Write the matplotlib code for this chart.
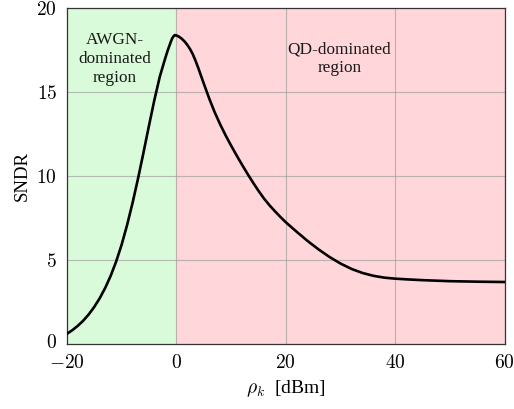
import matplotlib.pyplot as plt
import matplotlib.transforms as mtransforms
import numpy as np

plt.rcParams['font.family'] = 'serif'
plt.rcParams['font.serif'] = ['Liberation Serif', 'DejaVu Serif']
plt.rcParams['mathtext.fontset'] = 'cm'

# SNDR vs rho_k
rho = [-20, -19, -18, -17, -16, -15, -14, -13, -12, -11, -10, -9, -8, -7, -6, -5, -4, -3,
       -2, -1.5, -1, -0.75, -0.5, -0.25, 0, 0.5, 1, 1.5, 2, 2.5, 3, 3.5, 4, 5, 6, 7, 8, 9,
       10, 11, 12, 13, 14, 15, 16, 17, 18, 19, 20, 22, 24, 26, 28, 30, 32, 34, 36, 38, 40,
       42, 45, 50, 55, 60]
sndr = [0.6, 0.82, 1.08, 1.39, 1.76, 2.20, 2.72, 3.33, 4.05, 4.90, 5.90, 7.07, 8.39, 9.84,
        11.39, 12.99, 14.54, 15.94, 17.04, 17.55, 18.0, 18.2, 18.33, 18.4, 18.38, 18.3,
        18.18, 18.02, 17.82, 17.57, 17.27, 16.88, 16.45, 15.53, 14.63, 13.81, 13.09, 12.43,
        11.82, 11.24, 10.68, 10.14, 9.62, 9.13, 8.67, 8.27, 7.91, 7.57, 7.25, 6.68, 6.13,
        5.63, 5.18, 4.79, 4.47, 4.23, 4.06, 3.95, 3.89, 3.85, 3.80, 3.74, 3.71, 3.69]

xticks = [-20, 0, 20, 40, 60]
yticks = [0, 5, 10, 15, 20]

fig = plt.figure(figsize=(5.14, 4.09), dpi=100)
ax = fig.add_axes([0.130, 0.159, 0.852, 0.821])

ax.axvspan(-20, 0, color='#d9fbd9', zorder=0, lw=0)
ax.axvspan(0, 60, color='#ffd6d9', zorder=0, lw=0)

for xv in [0, 20, 40]:
    ax.axvline(xv, color='#a0a0a0', lw=0.8, alpha=0.7, zorder=1)
for yv in [5, 10, 15]:
    ax.axhline(yv, color='#a0a0a0', lw=0.8, alpha=0.7, zorder=1)

ax.plot(rho, sndr, color='black', lw=1.9, zorder=3,
        solid_joinstyle='round', solid_capstyle='round')

ax.text(-11.3, 17.0, 'AWGN-\ndominated\nregion', ha='center', va='center',
        fontsize=12.4, linespacing=1.25, color='#1a1a1a')
ax.text(29.8, 17.0, 'QD-dominated\nregion', ha='center', va='center',
        fontsize=12.4, linespacing=1.25, color='#1a1a1a')

ax.set_xlim(-20, 60)
ax.set_ylim(0, 20)
ax.set_xticks(xticks)
ax.set_xticklabels(['$%d$' % v for v in xticks])
ax.set_yticks(yticks)
ax.set_yticklabels(['$%d$' % v for v in yticks])
ax.tick_params(direction='in', length=0, labelsize=14)
ax.tick_params(axis='x', pad=7)
ax.tick_params(axis='y', pad=7)

# nudge the "0" label up a touch so it clears "-20"
up = mtransforms.ScaledTranslation(0, 3 / 100, fig.dpi_scale_trans)
lbl0 = ax.yaxis.get_majorticklabels()[0]
lbl0.set_transform(lbl0.get_transform() + up)

ax.set_xlabel(r'$\rho_k$  [dBm]', fontsize=14, labelpad=5)
ax.set_ylabel('SNDR', fontsize=13.5, labelpad=4)

for s in ax.spines.values():
    s.set_color('#333333')
    s.set_linewidth(0.9)

fig.savefig('out.png', dpi=100)
